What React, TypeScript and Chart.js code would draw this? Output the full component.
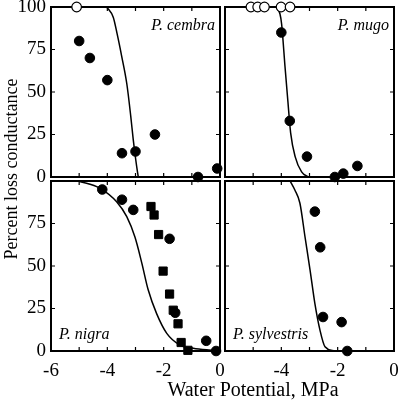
import React, { useEffect, useRef } from 'react';
import { Chart, registerables } from 'chart.js';

Chart.register(...registerables);

// ---- tick values and labels ----
const X_TICKS = [-6, -5, -4, -3, -2, -1, 0];
const Y_TICKS = [0, 25, 50, 75, 100];
const X_LABELS_LEFT = ['-6', '-4', '-2', '0'];
const X_LABELS_RIGHT = ['-4', '-2', '0'];
const Y_LABELS_TOP = ['100', '75', '50', '25', '0'];
const Y_LABELS_BOTTOM = ['75', '50', '25', '0'];
const SPECIES = ['P. cembra', 'P. mugo', 'P. nigra', 'P. sylvestris'];
const X_TITLE = 'Water Potential, MPa';
const Y_TITLE = 'Percent loss conductance';

// ---- P. cembra ----
const cembraOpenX = [-5.09];
const cembraOpenY = [100];
const cembraX = [-5.0, -4.62, -4.0, -3.48, -3.0, -2.31, -0.78, -0.1];
const cembraY = [80, 70, 57, 14, 15, 25, 0, 5];
const cembraCurveX = [-4.02, -3.79, -3.65, -3.49, -3.31, -3.17, -3.08, -2.99, -2.93, -2.9];
const cembraCurveY = [100, 94, 84, 71, 55, 36, 22, 10, 3, 0];

// ---- P. mugo ----
const mugoOpenX = [-5.08, -4.84, -4.6, -4.01, -3.69];
const mugoOpenY = [100, 100, 100, 100, 100];
const mugoX = [-4.0, -3.7, -3.09, -2.1, -1.8, -1.3];
const mugoY = [85, 33, 12, 0, 2, 6.5];
const mugoCurveX = [-4.17, -4.05, -3.99, -3.87, -3.77, -3.67, -3.51, -3.28, -3.04];
const mugoCurveY = [100, 96, 90, 65, 45, 26, 12, 3, 0];

// ---- P. nigra ----
const nigraX = [-4.18, -3.48, -3.08, -1.79, -1.59, -0.49, -0.14];
const nigraY = [95, 89, 83, 66, 22.5, 6, 0];
const nigraSqX = [-2.45, -2.34, -2.18, -2.02, -1.79, -1.66, -1.49, -1.38, -1.14];
const nigraSqY = [85, 80, 68.5, 47, 33.5, 24, 16, 5, 0.4];
const nigraCurveX = [-5.03, -4.26, -3.67, -3.31, -3.02, -2.78, -2.55, -2.25, -1.89, -1.42, -0.95, -0.4, 0];
const nigraCurveY = [100, 95.7, 87.8, 79, 67, 52, 36, 22, 10.4, 3.5, 1.6, 0.6, 0.2];

// ---- P. sylvestris ----
const sylvX = [-2.81, -2.62, -2.52, -1.86, -1.66];
const sylvY = [82, 61, 20, 17, 0];
const sylvCurveX = [-3.69, -3.52, -3.34, -3.16, -2.98, -2.81, -2.63, -2.45, -2.1];
const sylvCurveY = [100, 94.7, 86.9, 67.2, 47.6, 28, 12.4, 2.5, 0];

const W = 400;
const H = 402;
const YW = 51;
const XH = 30;
const FONT = '"Liberation Serif", "Times New Roman", serif';

const pts = (xs: number[], ys: number[]) => xs.map((x, i) => ({ x, y: ys[i] }));

const filled = (xs: number[], ys: number[], style: string = 'circle', r = 4.8) => ({
  type: 'scatter' as const,
  data: pts(xs, ys),
  pointStyle: style,
  pointRadius: r,
  backgroundColor: '#000',
  borderColor: '#000',
  borderWidth: 1,
  showLine: false,
  clip: false as any,
});

const open = (xs: number[], ys: number[]) => ({
  type: 'scatter' as const,
  data: pts(xs, ys),
  pointStyle: 'circle',
  pointRadius: 4.8,
  backgroundColor: '#fff',
  borderColor: '#000',
  borderWidth: 1.2,
  showLine: false,
  clip: false as any,
});

const curve = (xs: number[], ys: number[]) => ({
  type: 'line' as const,
  data: pts(xs, ys),
  borderColor: '#000',
  borderWidth: 1.5,
  pointRadius: 0,
  fill: false,
  cubicInterpolationMode: 'monotone' as const,
});

type Panel = {
  area: { l: number; t: number; r: number; b: number };
  xLabels: string[] | null;
  yLabels: string[] | null;
  label: string;
  labelCorner: 'tr' | 'bl';
  datasets: any[];
  titles?: boolean;
};

const PANELS: Panel[] = [
  {
    area: { l: 51, t: 7, r: 220, b: 177 },
    xLabels: null,
    yLabels: Y_LABELS_TOP,
    label: SPECIES[0],
    labelCorner: 'tr',
    datasets: [open(cembraOpenX, cembraOpenY), filled(cembraX, cembraY), curve(cembraCurveX, cembraCurveY)],
  },
  {
    area: { l: 225, t: 7, r: 394, b: 177 },
    xLabels: null,
    yLabels: null,
    label: SPECIES[1],
    labelCorner: 'tr',
    datasets: [open(mugoOpenX, mugoOpenY), filled(mugoX, mugoY), curve(mugoCurveX, mugoCurveY)],
  },
  {
    area: { l: 51, t: 181, r: 220, b: 351 },
    xLabels: X_LABELS_LEFT,
    yLabels: Y_LABELS_BOTTOM,
    label: SPECIES[2],
    labelCorner: 'bl',
    datasets: [filled(nigraX, nigraY), filled(nigraSqX, nigraSqY, 'rect', 5.8), curve(nigraCurveX, nigraCurveY)],
  },
  {
    area: { l: 225, t: 181, r: 394, b: 351 },
    xLabels: X_LABELS_RIGHT,
    yLabels: null,
    label: SPECIES[3],
    labelCorner: 'bl',
    datasets: [filled(sylvX, sylvY), curve(sylvCurveX, sylvCurveY)],
    titles: true,
  },
];

const framePlugin = {
  id: 'panelDeco',
  beforeDatasetsDraw(chart: any) {
    const { ctx, chartArea, scales } = chart;
    const { left, right, top, bottom } = chartArea;
    ctx.save();
    ctx.strokeStyle = '#000';
    ctx.lineWidth = 1.2;
    const tl = 4;
    ctx.beginPath();
    X_TICKS.forEach((v) => {
      const px = scales.x.getPixelForValue(v);
      ctx.moveTo(px, bottom);
      ctx.lineTo(px, bottom - tl);
      ctx.moveTo(px, top);
      ctx.lineTo(px, top + tl);
    });
    Y_TICKS.forEach((v) => {
      const py = scales.y.getPixelForValue(v);
      ctx.moveTo(left, py);
      ctx.lineTo(left + tl, py);
      ctx.moveTo(right, py);
      ctx.lineTo(right - tl, py);
    });
    ctx.stroke();
    ctx.lineWidth = 2;
    ctx.strokeRect(left, top, right - left, bottom - top);
    ctx.restore();
  },
  afterDraw(chart: any, _args: any, opts: any) {
    const { ctx, chartArea } = chart;
    const { left, right, top, bottom } = chartArea;
    ctx.save();
    ctx.fillStyle = '#000';
    ctx.font = `italic 16px ${FONT}`;
    ctx.textBaseline = 'middle';
    if (opts.corner === 'tr') {
      ctx.textAlign = 'right';
      ctx.fillText(opts.label, right - 5, top + 19);
    } else {
      ctx.textAlign = 'left';
      ctx.fillText(opts.label, left + 8, bottom - 16);
    }
    if (opts.titles) {
      ctx.font = `20px ${FONT}`;
      ctx.textAlign = 'center';
      ctx.textBaseline = 'middle';
      ctx.fillText(X_TITLE, 253, 391);
      ctx.translate(12, 169);
      ctx.rotate(-Math.PI / 2);
      ctx.font = `18px ${FONT}`;
      ctx.fillText(Y_TITLE, 0, 0);
    }
    ctx.restore();
  },
};

function PanelChart({ panel }: { panel: Panel }) {
  const ref = useRef<HTMLCanvasElement>(null);
  useEffect(() => {
    if (!ref.current) return;
    const { area, xLabels, yLabels } = panel;
    const showX = !!xLabels;
    const showY = !!yLabels;
    const zeroPad = (s: any) => {
      s.paddingLeft = 0;
      s.paddingRight = 0;
      s.paddingTop = 0;
      s.paddingBottom = 0;
    };
    const chart = new Chart(ref.current, {
      type: 'scatter',
      data: { datasets: panel.datasets as any },
      plugins: [framePlugin as any],
      options: {
        animation: false,
        responsive: false,
        devicePixelRatio: 1,
        layout: {
          padding: {
            left: showY ? area.l - YW : area.l,
            top: area.t,
            right: W - area.r,
            bottom: showX ? H - area.b - XH : H - area.b,
          },
        },
        plugins: {
          legend: { display: false },
          tooltip: { enabled: false },
          panelDeco: { label: panel.label, corner: panel.labelCorner, titles: !!panel.titles },
        } as any,
        scales: {
          x: {
            type: 'linear',
            position: 'bottom',
            min: -6,
            max: 0,
            grid: { display: false, drawTicks: false },
            border: { display: false },
            ticks: {
              display: showX,
              stepSize: 1,
              autoSkip: false,
              maxRotation: 0,
              minRotation: 0,
              padding: 9,
              color: '#000',
              font: { family: FONT, size: 19 },
              callback: (v: any) => (xLabels && xLabels.includes(String(v)) ? String(v) : ''),
            },
            afterFit: (s: any) => {
              s.height = showX ? XH : 0;
              zeroPad(s);
            },
          },
          y: {
            type: 'linear',
            position: 'left',
            min: 0,
            max: 100,
            grid: { display: false, drawTicks: false },
            border: { display: false },
            ticks: {
              display: showY,
              stepSize: 25,
              autoSkip: false,
              padding: 5,
              color: '#000',
              font: { family: FONT, size: 19 },
              callback: (v: any) => (yLabels && yLabels.includes(String(v)) ? String(v) : ''),
            },
            afterFit: (s: any) => {
              s.width = showY ? YW : 0;
              zeroPad(s);
            },
          },
        },
      },
    });
    return () => chart.destroy();
  }, [panel]);
  return (
    <canvas
      ref={ref}
      width={W}
      height={H}
      style={{ position: 'absolute', left: 0, top: 0, width: W, height: H, pointerEvents: 'none' }}
    />
  );
}

export default function App() {
  return (
    <div style={{ position: 'fixed', left: 0, top: 0, width: W, height: H, background: '#fff', overflow: 'hidden' }}>
      {PANELS.map((p, i) => (
        <PanelChart key={i} panel={p} />
      ))}
    </div>
  );
}
